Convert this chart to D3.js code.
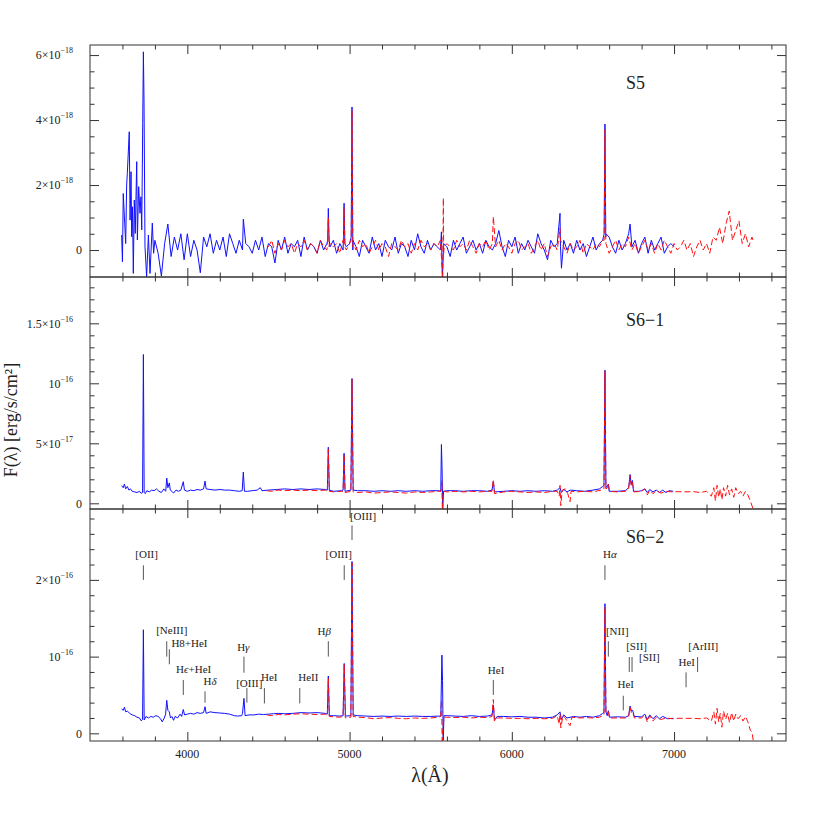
<!DOCTYPE html>
<html>
<head>
<meta charset="utf-8">
<script src="https://cdn.jsdelivr.net/npm/d3@7"></script>
<style>
  body { margin: 0; background: #fff; }
  text { font-family: "Liberation Serif", "DejaVu Serif", serif; fill: #222; }
</style>
</head>
<body>
<svg id="chart" width="830" height="830"></svg>
<script>
// ---- data (flux in units of 1e-18 for S5, 1e-17 for S6-1 / S6-2) ----
const waveStep = 20;

// S5 blue: regular 20 A samples from 3800 A, plus hand-read edge / line points
const s5BlueStart = 3800;
const s5BlueFlux = [
  0.3, -0.1, -0.8, 0.2, 0.8, -0.2, 0.4, 0.0, 0.5, -0.3,
  0.5, -0.2, 0.3, 0.0, -0.7, 0.4, 0.1, 0.5, -0.1, 0.3,
  0.0, 0.4, -0.2, 0.5, 0.2, -0.1, 0.3, 0.0, 0.2, 0.1,
  -0.1, 0.3, 0.0, 0.4, -0.2, 0.2, 0.1, -0.4, 0.3, 0.0,
  0.4, -0.1, 0.2, 0.1, 0.3, -0.2, 0.4, 0.0, 0.2, 0.1,
  -0.1, 0.3, 0.0, 0.2, 0.1, 0.3, -0.1, 0.2, 0.0, 0.1,
  0.2, 0.0, 0.1, -0.2, 0.3, 0.1, -0.1, 0.4, 0.0, 0.2,
  -0.2, 0.3, 0.1, 0.0, 0.4, -0.1, 0.2, 0.1, -0.2, 0.3,
  0.0, 0.5, 0.1, -0.1, 0.3, 0.0, 0.2, 0.1, 0.0, 0.2,
  0.1, -0.2, 0.3, 0.0, 0.2, 0.4, -0.1, 0.1, 0.3, 0.0,
  0.2, -0.1, 0.3, 0.1, 0.0, 0.2, 0.6, 0.1, -0.2, 0.3,
  0.1, 0.4, -0.1, 0.2, 0.0, 0.3, 0.1, -0.1, 0.5, 0.2,
  0.0, -0.3, 0.3, 0.1, 0.2, 0.1, 0.3, 0.0, 0.2, -0.1,
  0.3, 0.0, 0.2, -0.2, 0.1, 0.4, 0.0, 0.2, 0.3, 0.5,
  0.4, 0.1, -0.1, 0.3, 0.0, 0.2, 0.5, 0.1, 0.3, -0.1,
  0.2, 0.4, -0.1, 0.3, 0.0, 0.2, 0.4, -0.1, 0.1, 0.2,
  0.1
];
const s5BlueExtra = [
  [3595, 0.46], [3600, -0.36], [3605, 1.74], [3620, 0.2], [3626, 2.0], [3630, 2.36],
  [3642, 3.64], [3647, 0.92], [3653, 2.41], [3657, 0.41], [3662, 1.33], [3667, -0.72],
  [3673, 1.54], [3679, 0.51], [3688, 2.72], [3692, 0.31], [3700, 1.95], [3708, 1.13],
  [3714, 1.64], [3719, 0.62], [3725, 3.9], [3729, 6.1], [3733, 4.6], [3739, 0.1],
  [3749, -0.82], [3760, 0.46], [3770, -0.72], [3784, 0.83], [3792, -0.1],
  [4345, 0.95], [4865, 0.3], [4869, 1.28], [4874, 0.3], [4962, 0.3], [4966, 1.44],
  [4971, 0.2], [5010, 0.4], [5015, 4.4], [5020.5, 0.3], [5566, 0.56], [5572, -0.9],
  [6297, 1.13], [6306, -0.56], [6569, 0.5], [6574, 3.88], [6579, 0.4], [6729, 0.8]
];

// S5 red: regular 20 A samples from 4500 A
const s5RedStart = 4500;
const s5RedFlux = [
  0.1, 0.3, -0.1, 0.2, 0.0, 0.3, 0.1, 0.2, -0.1, 0.2,
  0.1, 0.3, 0.0, 0.2, 0.1, -0.1, 0.3, 0.1, 0.0, 0.2,
  0.1, 0.2, -0.1, 0.3, 0.0, 0.2, 0.1, 0.0, 0.3, 0.1,
  0.2, -0.1, 0.1, 0.3, 0.0, 0.2, 0.1, -0.2, 0.2, 0.1,
  0.0, 0.3, 0.1, 0.2, -0.1, 0.2, 0.0, 0.3, 0.1, 0.2,
  0.0, 0.2, 0.1, 0.3, -0.1, 0.2, 0.1, 0.0, 0.3, 0.1,
  0.2, 0.0, 0.3, 0.1, -0.1, 0.2, 0.1, 0.3, 0.0, 0.2,
  0.1, 0.3, 0.0, 0.2, 0.1, -0.1, 0.2, 0.3, 0.0, 0.1,
  0.2, -0.1, 0.1, 0.3, 0.0, 0.2, -0.2, 0.1, 0.2, 0.0,
  0.3, 0.1, -0.1, 0.2, 0.0, 0.1, 0.3, -0.1, 0.2, 0.1,
  0.0, 0.2, 0.1, 0.3, 0.2, -0.1, 0.1, 0.3, 0.0, 0.2,
  0.1, 0.4, 0.0, 0.2, -0.1, 0.1, 0.3, 0.0, 0.2, -0.1,
  0.2, 0.0, 0.3, 0.1, -0.1, 0.2, 0.0, 0.1, 0.3, 0.0,
  0.2, -0.2, 0.1, 0.3, 0.0, 0.2, -0.1, 0.4, 0.3, 0.7,
  0.2, 0.8, 1.2, 0.3, 0.6, 0.9, 0.2, 0.5, 0.1, 0.4
];
const s5RedExtra = [
  [4865, 0.2], [4869, 1.0], [4874, 0.1], [4962, 0.2], [4966, 1.3], [4971, 0.1],
  [5010, 0.3], [5015, 4.3], [5020.5, 0.2], [5574, -0.9], [5578, 1.6], [5583, 0.1],
  [5886, 1.03], [6297, 0.67], [6569, 0.3], [6574, 3.7], [6579, 0.3], [7490, 0.26]
];

// S6-1 (1e-17)
const s61Blue = [
  [3595,1.47],[3605,1.3],[3612,1.6],[3620,1.2],[3630,1.4],[3640,1.1],[3650,1.2],[3660,1.0],
  [3675,0.95],[3690,0.9],[3705,1.0],[3715,0.83],[3724,0.9],[3729,12.4],[3734,0.9],[3740,0.8],
  [3750,1.05],[3765,0.95],[3780,1.1],[3795,1.05],[3810,1.2],[3825,1.0],[3840,0.9],[3855,1.2],
  [3867,1.0],[3873,2.1],[3880,1.3],[3889,1.7],[3895,1.1],[3905,1.0],[3915,0.85],[3930,1.1],
  [3945,1.0],[3960,1.1],[3975,1.8],[3982,1.1],[4000,1.0],[4020,1.1],[4040,1.05],[4060,1.15],
  [4080,1.1],[4100,1.2],[4109,1.85],[4116,1.2],[4140,1.15],[4170,1.1],[4200,1.15],[4230,1.1],
  [4260,1.1],[4290,1.05],[4320,1.0],[4338,1.05],[4345,2.6],[4352,1.0],[4370,1.0],[4400,1.05],
  [4430,1.1],[4450,1.3],[4460,1.05],[4500,1.1],[4550,1.15],[4600,1.2],[4650,1.15],[4700,1.2],
  [4750,1.15],[4800,1.2],[4850,1.15],[4863,1.1],[4869,4.67],[4875,1.1],[4900,1.0],[4950,1.05],
  [4960,1.1],[4966,4.17],[4972,1.0],[5008,1.1],[5015,10.4],[5022,1.1],[5050,1.05],[5100,1.05],
  [5150,1.0],[5200,1.05],[5250,1.0],[5300,1.05],[5350,1.0],[5400,1.05],[5450,1.0],[5500,1.05],
  [5550,1.05],[5562,1.0],[5566,4.9],[5570,3.0],[5574,-0.5],[5579,1.0],[5600,1.05],[5650,1.05],
  [5700,1.0],[5750,1.05],[5800,1.05],[5850,1.0],[5878,1.1],[5886,1.8],[5893,0.95],[5950,1.0],
  [6000,1.05],[6050,1.0],[6100,1.05],[6150,1.0],[6200,1.05],[6250,1.0],[6280,1.1],[6297,1.3],
  [6305,0.9],[6320,1.15],[6340,0.95],[6360,1.1],[6400,1.05],[6450,1.0],[6500,1.1],[6540,1.2],
  [6560,1.4],[6568,1.5],[6574,11.1],[6580,1.3],[6590,1.5],[6595,1.6],[6600,1.0],[6650,1.0],
  [6700,1.05],[6720,1.3],[6729,2.4],[6735,1.6],[6743,1.9],[6750,1.0],[6780,1.0],[6800,1.05],
  [6820,1.2],[6835,0.9],[6850,1.15],[6870,0.95],[6890,1.1],[6910,0.9],[6930,1.1],[6950,0.9],
  [6970,1.05],[6995,1.0]
];
const s61Red = [
  [4490,1.05],[4520,1.0],[4560,1.1],[4600,1.05],[4650,1.1],[4700,1.05],[4750,1.1],[4800,1.05],
  [4850,1.1],[4863,1.0],[4869,4.5],[4875,1.0],[4900,0.95],[4950,1.0],[4960,1.0],[4966,4.1],
  [4972,0.9],[5008,1.0],[5015,10.3],[5022,0.95],[5050,0.9],[5100,0.95],[5150,0.85],[5200,0.9],
  [5250,0.95],[5300,0.9],[5350,0.85],[5400,0.95],[5450,0.9],[5500,0.95],[5550,1.0],[5564,1.0],
  [5568,1.9],[5572,-0.6],[5576,0.4],[5580,1.0],[5600,0.95],[5650,1.0],[5700,0.95],[5750,1.0],
  [5800,0.95],[5850,1.0],[5878,1.0],[5886,2.0],[5893,0.8],[5950,0.95],[6000,1.0],[6050,0.95],
  [6100,0.9],[6150,0.95],[6200,0.9],[6250,1.0],[6280,1.0],[6292,0.6],[6297,1.5],[6302,-0.2],
  [6310,1.1],[6330,1.2],[6345,0.8],[6359,0.13],[6365,1.0],[6400,0.95],[6450,1.0],[6500,0.95],
  [6550,1.1],[6568,1.2],[6574,11.0],[6580,1.2],[6590,1.3],[6595,1.67],[6602,1.0],[6650,0.95],
  [6700,1.0],[6720,1.2],[6729,2.3],[6736,1.5],[6743,1.8],[6752,0.95],[6800,1.0],[6820,1.2],
  [6835,0.7],[6850,1.1],[6870,0.8],[6890,1.05],[6920,0.85],[6950,1.0],[6990,0.95],[7030,0.97],
  [7060,0.95],[7120,0.97],[7160,0.9],[7200,1.0],[7230,0.6],[7245,1.3],[7255,0.2],[7265,1.5],
  [7275,0.5],[7285,1.2],[7295,0.3],[7305,1.3],[7318,0.6],[7330,1.5],[7342,0.7],[7355,1.2],
  [7368,0.5],[7380,1.3],[7395,0.8],[7410,1.0],[7425,0.6],[7440,1.0],[7455,0.7],[7470,0.2],
  [7488,-0.5]
];

// S6-2 (1e-17)
const s62Blue = [
  [3595,3.17],[3605,3.0],[3612,3.4],[3620,2.8],[3630,2.9],[3645,2.6],[3660,2.4],[3675,2.3],
  [3690,2.1],[3705,2.0],[3715,1.64],[3724,1.8],[3729,13.5],[3734,1.73],[3745,2.2],[3760,2.0],
  [3775,2.2],[3790,2.1],[3805,2.3],[3820,2.2],[3835,1.9],[3845,1.5],[3858,2.0],[3866,2.5],
  [3873,4.3],[3880,3.0],[3889,2.8],[3896,2.0],[3905,2.2],[3915,1.7],[3925,2.2],[3940,2.0],
  [3955,2.5],[3965,2.2],[3975,3.1],[3983,2.4],[4000,2.5],[4020,2.6],[4040,2.5],[4060,2.7],
  [4080,2.6],[4100,2.7],[4109,3.47],[4116,2.6],[4140,2.8],[4170,2.7],[4200,2.65],[4230,2.6],
  [4260,2.5],[4290,2.3],[4310,2.25],[4335,2.3],[4340,2.6],[4349,4.56],[4356,2.3],[4380,2.4],
  [4410,2.4],[4440,2.5],[4470,2.45],[4500,2.5],[4530,2.55],[4560,2.6],[4600,2.55],[4650,2.6],
  [4700,2.7],[4750,2.65],[4800,2.7],[4850,2.6],[4863,2.5],[4869,7.47],[4875,2.3],[4900,2.3],
  [4940,2.25],[4960,2.3],[4967,9.1],[4974,2.25],[5008,2.3],[5015,22.4],[5022,2.4],[5050,2.3],
  [5100,2.25],[5150,2.2],[5200,2.25],[5250,2.2],[5300,2.25],[5350,2.2],[5400,2.25],[5450,2.2],
  [5500,2.2],[5550,2.25],[5562,2.2],[5569,10.2],[5573,6.9],[5577,-0.9],[5582,2.3],[5600,2.3],
  [5650,2.25],[5700,2.2],[5750,2.3],[5800,2.2],[5850,2.25],[5878,2.4],[5886,3.7],[5893,1.7],
  [5910,2.2],[5950,2.2],[6000,2.15],[6050,2.2],[6100,2.1],[6150,2.1],[6200,2.0],[6250,2.1],
  [6280,2.4],[6297,2.8],[6305,1.8],[6320,2.4],[6340,2.0],[6380,2.2],[6420,2.1],[6460,2.2],
  [6500,2.1],[6540,2.3],[6560,2.6],[6568,2.7],[6574,16.9],[6580,2.8],[6588,2.3],[6595,2.95],
  [6602,2.1],[6650,2.15],[6700,2.1],[6720,2.3],[6729,3.56],[6737,2.9],[6745,3.0],[6755,2.2],
  [6800,2.15],[6820,2.5],[6835,1.8],[6850,2.4],[6870,1.9],[6890,2.3],[6910,1.9],[6930,2.2],
  [6960,1.9],[6995,1.96]
];
const s62Red = [
  [4490,2.4],[4520,2.3],[4560,2.45],[4600,2.4],[4650,2.5],[4700,2.55],[4750,2.5],[4800,2.45],
  [4850,2.5],[4863,2.3],[4869,7.2],[4875,2.2],[4900,2.15],[4940,2.1],[4960,2.2],[4967,9.0],
  [4974,2.0],[5008,2.1],[5015,22.2],[5022,2.2],[5050,2.1],[5100,2.05],[5150,1.9],[5200,2.0],
  [5250,2.05],[5300,1.95],[5350,1.9],[5400,2.0],[5450,1.95],[5500,2.0],[5550,2.1],[5562,2.2],
  [5567,4.3],[5571,-1.5],[5576,1.0],[5582,2.1],[5600,2.1],[5650,2.05],[5700,2.1],[5750,2.0],
  [5800,2.1],[5850,2.05],[5878,2.2],[5886,4.4],[5893,1.6],[5910,2.0],[5950,2.0],[6000,1.95],
  [6050,1.95],[6100,1.9],[6150,1.95],[6200,1.9],[6250,1.95],[6280,2.3],[6292,1.2],[6297,2.6],
  [6302,0.7],[6315,2.3],[6330,2.0],[6345,1.4],[6359,1.0],[6370,2.1],[6420,2.0],[6460,2.05],
  [6500,2.0],[6540,2.1],[6568,2.4],[6574,16.5],[6580,2.6],[6595,2.8],[6602,2.0],[6650,2.0],
  [6700,2.0],[6720,2.2],[6729,3.4],[6737,2.7],[6745,2.8],[6755,2.0],[6800,2.0],[6820,2.4],
  [6835,1.5],[6850,2.3],[6870,1.6],[6890,2.1],[6920,1.8],[6950,2.0],[6990,1.9],[7030,1.96],
  [7080,1.95],[7120,1.96],[7160,1.9],[7200,2.0],[7230,1.6],[7245,2.8],[7255,1.2],[7265,3.26],
  [7275,1.5],[7285,2.6],[7295,0.8],[7305,2.9],[7318,1.8],[7330,2.6],[7342,1.4],[7355,2.7],
  [7368,1.6],[7380,2.5],[7395,1.9],[7410,2.3],[7425,1.6],[7440,2.2],[7455,1.5],[7470,0.4],
  [7480,0.2],[7490,-1.2]
];

// axis ticks
const xMajorTicks = [4000, 5000, 6000, 7000];
const s5YTicks = [0, 2, 4, 6];
const s5YLabels = [["0", ""], ["2×10", "−18"], ["4×10", "−18"], ["6×10", "−18"]];
const s61YTicks = [0, 5, 10, 15];
const s61YLabels = [["0", ""], ["5×10", "−17"], ["10", "−16"], ["1.5×10", "−16"]];
const s62YTicks = [0, 10, 20];
const s62YLabels = [["0", ""], ["10", "−16"], ["2×10", "−16"]];

// line identifications in S6-2: label text, [wavelength, flux] of the label baseline
const lineNames = ["[OII]", "[NeIII]", "H8+HeI", "Hϵ+HeI", "Hδ", "Hγ", "[OIII]", "HeI", "HeII",
  "Hβ", "[OIII]", "[OIII]", "HeI", "Hα", "[NII]", "[SII]", "[SII]", "HeI", "HeI", "[ArIII]"];
const lineNamePos = [[3749,22.8],[3904,12.95],[4013,11.25],[4039,7.86],[4140,6.3],[4345,10.7],
  [4382,6.1],[4505,6.8],[4746,6.8],[4844,12.8],[4933,22.8],[5083,27.8],[5903,7.7],[6605,22.8],
  [6650,12.8],[6769,10.85],[6848,9.4],[6702,5.9],[7078,8.8],[7180,10.85]];
// marker bars: wavelength, flux from, flux to
const lineMarks = [[3729,20.0,21.9],[3873,10.0,12.0],[3889,9.0,10.95],[3975,5.0,6.95],
  [4109,4.0,5.47],[4349,7.9,10.0],[4367,4.0,5.9],[4475,3.9,5.9],[4693,3.9,5.9],[4869,10.0,12.0],
  [4967,20.0,21.9],[5015,25.2,27.1],[5886,5.0,6.95],[6574,20.0,21.9],[6595,10.0,12.0],
  [6724,8.0,9.95],[6741,8.0,9.95],[6687,3.0,4.9],[7074,6.0,7.95],[7145,8.0,9.95]];

// ---- helpers ----
function gridSpectrum(start, flux, extra) {
  return flux.map((f, i) => [start + i * waveStep, f])
    .concat(extra)
    .sort((a, b) => a[0] - b[0]);
}

const svg = d3.select("#chart");
const plotLeft = 90, plotRight = 786;
const x = d3.scaleLinear().domain([3400, 7690]).range([plotLeft, plotRight]);

const panels = [
  { name: "S5", top: 45, bottom: 277, domain: [-0.83, 6.31], minor: 0.5,
    ticks: s5YTicks, labels: s5YLabels, titleDy: 44,
    blue: gridSpectrum(s5BlueStart, s5BlueFlux, s5BlueExtra),
    red: gridSpectrum(s5RedStart, s5RedFlux, s5RedExtra) },
  { name: "S6\u22121", top: 277, bottom: 509, domain: [-0.475, 18.86], minor: 1,
    ticks: s61YTicks, labels: s61YLabels, titleDy: 49, blue: s61Blue, red: s61Red },
  { name: "S6\u22122", top: 509, bottom: 741, domain: [-1.0, 29.24], minor: 2,
    ticks: s62YTicks, labels: s62YLabels, titleDy: 34, blue: s62Blue, red: s62Red }
];

const xMinor = d3.range(3600, 7690, 200);

panels.forEach((p, pi) => {
  const y = d3.scaleLinear().domain(p.domain).range([p.bottom, p.top]);
  const g = svg.append("g");
  const clipId = "clip" + pi;

  g.append("clipPath").attr("id", clipId)
    .append("rect")
    .attr("x", plotLeft).attr("y", p.top)
    .attr("width", plotRight - plotLeft).attr("height", p.bottom - p.top);

  const line = d3.line().x(d => x(d[0])).y(d => y(d[1]));

  // spectra: blue first, red dashed on top
  g.append("path")
    .datum(p.blue)
    .attr("clip-path", `url(#${clipId})`)
    .attr("d", line)
    .attr("fill", "none")
    .attr("stroke", "#1010ff")
    .attr("stroke-width", 1);

  g.append("path")
    .datum(p.red)
    .attr("clip-path", `url(#${clipId})`)
    .attr("d", line)
    .attr("fill", "none")
    .attr("stroke", "#ff1010")
    .attr("stroke-width", 1)
    .attr("stroke-dasharray", "6,3");

  // ticks on all four sides, pointing inward
  const yMinor = d3.range(Math.ceil(p.domain[0] / p.minor) * p.minor, p.domain[1], p.minor)
    .filter(v => !p.ticks.some(t => Math.abs(t - v) < 1e-9));

  const addAxis = (axis, transform) => {
    const a = g.append("g").attr("transform", transform).call(axis);
    a.select(".domain").remove();
    a.selectAll("line").attr("stroke", "#333");
    a.selectAll("text").remove();
  };
  addAxis(d3.axisLeft(y).tickValues(p.ticks).tickSize(-9), `translate(${plotLeft},0)`);
  addAxis(d3.axisLeft(y).tickValues(yMinor).tickSize(-4.5), `translate(${plotLeft},0)`);
  addAxis(d3.axisRight(y).tickValues(p.ticks).tickSize(-9), `translate(${plotRight},0)`);
  addAxis(d3.axisRight(y).tickValues(yMinor).tickSize(-4.5), `translate(${plotRight},0)`);
  addAxis(d3.axisTop(x).tickValues(xMajorTicks).tickSize(-9), `translate(0,${p.top})`);
  addAxis(d3.axisTop(x).tickValues(xMinor.filter(v => v % 1000)).tickSize(-4.5), `translate(0,${p.top})`);
  addAxis(d3.axisBottom(x).tickValues(xMajorTicks).tickSize(-9), `translate(0,${p.bottom})`);
  addAxis(d3.axisBottom(x).tickValues(xMinor.filter(v => v % 1000)).tickSize(-4.5), `translate(0,${p.bottom})`);

  // frame
  g.append("rect")
    .attr("x", plotLeft).attr("y", p.top)
    .attr("width", plotRight - plotLeft).attr("height", p.bottom - p.top)
    .attr("fill", "none").attr("stroke", "#333").attr("stroke-width", 1);

  // y tick labels: mantissa + superscript exponent
  const lab = g.selectAll(".ylab").data(p.ticks).enter().append("text")
    .attr("class", "ylab")
    .attr("x", (d, i) => p.labels[i][1] ? 73 : 82)
    .attr("y", d => y(d))
    .attr("dy", "0.35em")
    .attr("text-anchor", "end")
    .attr("font-size", 12);
  lab.append("tspan").text((d, i) => p.labels[i][0]);
  lab.append("tspan")
    .attr("font-size", 8)
    .attr("dy", "-0.75em")
    .text((d, i) => p.labels[i][1]);

  // panel name
  g.append("text")
    .attr("x", plotLeft + 536)
    .attr("y", p.top + p.titleDy)
    .attr("font-size", 18)
    .text(p.name);

  // line identifications only in bottom panel
  if (pi === 2) {
    g.selectAll(".mark").data(lineMarks).enter().append("line")
      .attr("x1", d => x(d[0])).attr("x2", d => x(d[0]))
      .attr("y1", d => y(d[1])).attr("y2", d => y(d[2]))
      .attr("stroke", "#555").attr("stroke-width", 1);

    const names = g.selectAll(".lname").data(lineNames).enter().append("text")
      .attr("x", (d, i) => x(lineNamePos[i][0]))
      .attr("y", (d, i) => y(lineNamePos[i][1]))
      .attr("text-anchor", "middle")
      .attr("font-size", 11);
    names.each(function (d) {
      const t = d3.select(this);
      const m = d.match(/^(H)([αβγδϵ])(.*)$/);
      if (m) {
        t.append("tspan").text(m[1]);
        t.append("tspan").attr("font-style", "italic").text(m[2]);
        if (m[3]) t.append("tspan").text(m[3]);
      } else {
        t.text(d);
      }
    });
  }

  // x tick labels only under the last panel
  if (pi === panels.length - 1) {
    g.selectAll(".xlab").data(xMajorTicks).enter().append("text")
      .attr("x", d => x(d))
      .attr("y", p.bottom + 16.5)
      .attr("text-anchor", "middle")
      .attr("font-size", 12)
      .text(d => d);
  }
});

// axis titles
svg.append("text")
  .attr("x", (plotLeft + plotRight) / 2 - 8)
  .attr("y", 782)
  .attr("text-anchor", "middle")
  .attr("font-size", 20)
  .text("λ(Å)");

svg.append("text")
  .attr("transform", "translate(17,420) rotate(-90)")
  .attr("text-anchor", "middle")
  .attr("font-size", 18)
  .text("F(λ) [erg/s/cm²]");
</script>
</body>
</html>
